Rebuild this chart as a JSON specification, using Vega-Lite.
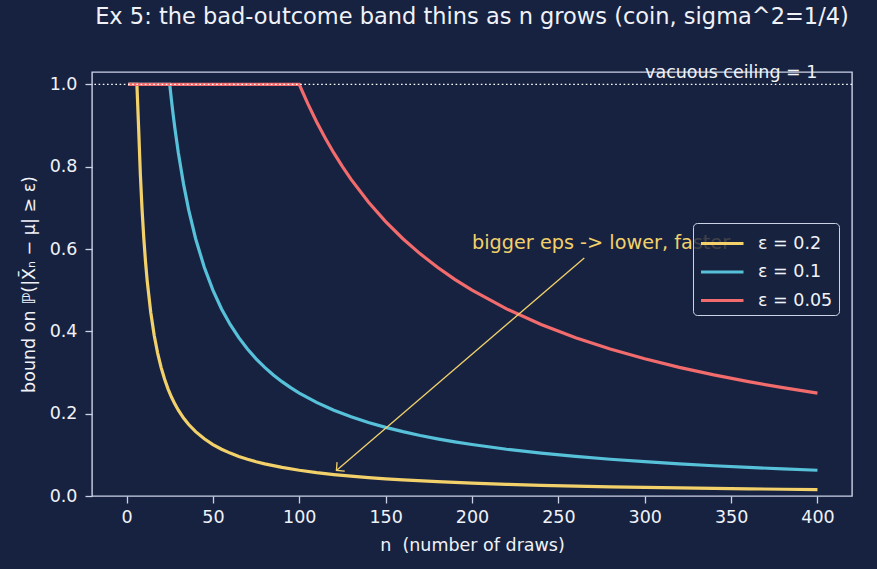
{
  "$schema": "https://vega.github.io/schema/vega-lite/v6.json",
  "width": 760,
  "height": 424,
  "autosize": {"type": "none"},
  "padding": {"left": 92, "top": 72, "right": 25, "bottom": 73},
  "background": "#172240",
  "config": {
    "font": "DejaVu Sans",
    "view": {"stroke": "#ccd3e6", "strokeWidth": 1.4, "fill": "#172240"},
    "axis": {
      "domain": false,
      "grid": false,
      "tickColor": "#ccd3e6",
      "tickSize": 7,
      "tickWidth": 1.3,
      "labelColor": "#f0f2f8",
      "labelFontSize": 17.5,
      "labelFont": "DejaVu Sans",
      "titleColor": "#f0f2f8",
      "titleFontSize": 17.5,
      "titleFontWeight": "normal",
      "titleFont": "DejaVu Sans"
    }
  },
  "title": {
    "text": "Ex 5: the bad-outcome band thins as n grows (coin, sigma^2=1/4)",
    "color": "#f0f2f8",
    "fontSize": 22.5,
    "fontWeight": "normal",
    "font": "DejaVu Sans",
    "anchor": "middle",
    "offset": 36
  },
  "datasets": {
    "curves": [
      {"n":1,"eps":"e02","p":1},{"n":2,"eps":"e02","p":1},{"n":3,"eps":"e02","p":1},{"n":4,"eps":"e02","p":1},{"n":5,"eps":"e02","p":1},{"n":6,"eps":"e02","p":1},
      {"n":7,"eps":"e02","p":0.8929},{"n":8,"eps":"e02","p":0.7813},{"n":9,"eps":"e02","p":0.6944},{"n":10,"eps":"e02","p":0.625},{"n":11,"eps":"e02","p":0.5682},{"n":12,"eps":"e02","p":0.5208},
      {"n":14,"eps":"e02","p":0.4464},{"n":16,"eps":"e02","p":0.3906},{"n":18,"eps":"e02","p":0.3472},{"n":20,"eps":"e02","p":0.3125},{"n":22,"eps":"e02","p":0.2841},{"n":24,"eps":"e02","p":0.2604},
      {"n":26,"eps":"e02","p":0.2404},{"n":28,"eps":"e02","p":0.2232},{"n":30,"eps":"e02","p":0.2083},{"n":33,"eps":"e02","p":0.1894},{"n":36,"eps":"e02","p":0.1736},{"n":40,"eps":"e02","p":0.1563},
      {"n":45,"eps":"e02","p":0.1389},{"n":50,"eps":"e02","p":0.125},{"n":55,"eps":"e02","p":0.1136},{"n":60,"eps":"e02","p":0.1042},{"n":65,"eps":"e02","p":0.0962},{"n":70,"eps":"e02","p":0.0893},
      {"n":75,"eps":"e02","p":0.0833},{"n":80,"eps":"e02","p":0.0781},{"n":90,"eps":"e02","p":0.0694},{"n":100,"eps":"e02","p":0.0625},{"n":110,"eps":"e02","p":0.0568},{"n":120,"eps":"e02","p":0.0521},
      {"n":130,"eps":"e02","p":0.0481},{"n":140,"eps":"e02","p":0.0446},{"n":150,"eps":"e02","p":0.0417},{"n":160,"eps":"e02","p":0.0391},{"n":180,"eps":"e02","p":0.0347},{"n":200,"eps":"e02","p":0.0313},
      {"n":220,"eps":"e02","p":0.0284},{"n":240,"eps":"e02","p":0.026},{"n":260,"eps":"e02","p":0.024},{"n":280,"eps":"e02","p":0.0223},{"n":300,"eps":"e02","p":0.0208},{"n":320,"eps":"e02","p":0.0195},
      {"n":340,"eps":"e02","p":0.0184},{"n":360,"eps":"e02","p":0.0174},{"n":380,"eps":"e02","p":0.0164},{"n":400,"eps":"e02","p":0.0156},

      {"n":1,"eps":"e01","p":1},{"n":10,"eps":"e01","p":1},{"n":20,"eps":"e01","p":1},{"n":25,"eps":"e01","p":1},
      {"n":26,"eps":"e01","p":0.9615},{"n":27,"eps":"e01","p":0.9259},{"n":28,"eps":"e01","p":0.8929},{"n":30,"eps":"e01","p":0.8333},{"n":33,"eps":"e01","p":0.7576},{"n":36,"eps":"e01","p":0.6944},
      {"n":40,"eps":"e01","p":0.625},{"n":45,"eps":"e01","p":0.5556},{"n":50,"eps":"e01","p":0.5},{"n":55,"eps":"e01","p":0.4545},{"n":60,"eps":"e01","p":0.4167},{"n":65,"eps":"e01","p":0.3846},
      {"n":70,"eps":"e01","p":0.3571},{"n":75,"eps":"e01","p":0.3333},{"n":80,"eps":"e01","p":0.3125},{"n":85,"eps":"e01","p":0.2941},{"n":90,"eps":"e01","p":0.2778},{"n":95,"eps":"e01","p":0.2632},
      {"n":100,"eps":"e01","p":0.25},{"n":110,"eps":"e01","p":0.2273},{"n":120,"eps":"e01","p":0.2083},{"n":130,"eps":"e01","p":0.1923},{"n":140,"eps":"e01","p":0.1786},{"n":150,"eps":"e01","p":0.1667},
      {"n":160,"eps":"e01","p":0.1563},{"n":170,"eps":"e01","p":0.1471},{"n":180,"eps":"e01","p":0.1389},{"n":190,"eps":"e01","p":0.1316},{"n":200,"eps":"e01","p":0.125},{"n":220,"eps":"e01","p":0.1136},
      {"n":240,"eps":"e01","p":0.1042},{"n":260,"eps":"e01","p":0.0962},{"n":280,"eps":"e01","p":0.0893},{"n":300,"eps":"e01","p":0.0833},{"n":320,"eps":"e01","p":0.0781},{"n":340,"eps":"e01","p":0.0735},
      {"n":360,"eps":"e01","p":0.0694},{"n":380,"eps":"e01","p":0.0658},{"n":400,"eps":"e01","p":0.0625},

      {"n":1,"eps":"e005","p":1},{"n":50,"eps":"e005","p":1},{"n":100,"eps":"e005","p":1},
      {"n":101,"eps":"e005","p":0.9901},{"n":105,"eps":"e005","p":0.9524},{"n":110,"eps":"e005","p":0.9091},{"n":115,"eps":"e005","p":0.8696},{"n":120,"eps":"e005","p":0.8333},{"n":125,"eps":"e005","p":0.8},
      {"n":130,"eps":"e005","p":0.7692},{"n":140,"eps":"e005","p":0.7143},{"n":150,"eps":"e005","p":0.6667},{"n":160,"eps":"e005","p":0.625},{"n":170,"eps":"e005","p":0.5882},{"n":180,"eps":"e005","p":0.5556},
      {"n":190,"eps":"e005","p":0.5263},{"n":200,"eps":"e005","p":0.5},{"n":220,"eps":"e005","p":0.4545},{"n":240,"eps":"e005","p":0.4167},{"n":260,"eps":"e005","p":0.3846},{"n":280,"eps":"e005","p":0.3571},
      {"n":300,"eps":"e005","p":0.3333},{"n":320,"eps":"e005","p":0.3125},{"n":340,"eps":"e005","p":0.2941},{"n":360,"eps":"e005","p":0.2778},{"n":380,"eps":"e005","p":0.2632},{"n":400,"eps":"e005","p":0.25}
    ],
    "ceiling": [{"p": 1, "n": 400, "label": "vacuous ceiling = 1"}],
    "note": [{"n": 200, "p": 0.6, "label": "bigger eps -> lower, faster"}],
    "arrow": [{"n": 265, "p": 0.578, "n2": 121.5, "p2": 0.062}]
  },
  "layer": [
    {
      "data": {"name": "curves"},
      "mark": {"type": "line", "strokeWidth": 3.2, "interpolate": "linear"},
      "encoding": {
        "x": {
          "field": "n", "type": "quantitative",
          "scale": {"domain": [-20, 420], "nice": false, "zero": false},
          "axis": {"values": [0,50,100,150,200,250,300,350,400], "title": "n\u00a0\u00a0(number of draws)", "labelPadding": 5, "titlePadding": 11}
        },
        "y": {
          "field": "p", "type": "quantitative",
          "scale": {"domain": [0, 1.03], "nice": false},
          "axis": {"values": [0,0.2,0.4,0.6,0.8,1.0], "format": ".1f", "title": "bound on ℙ(|X̄ₙ − μ| ≥ ε)", "labelPadding": 8, "titlePadding": 11}
        },
        "color": {
          "field": "eps", "type": "nominal",
          "scale": {"domain": ["e02", "e01", "e005"], "range": ["#f2d16b", "#57c1da", "#f26b6d"]},
          "legend": {
            "title": null,
            "orient": "none",
            "legendX": 601,
            "legendY": 151,
            "labelExpr": "datum.value == 'e02' ? 'ε = 0.2' : datum.value == 'e01' ? 'ε = 0.1' : 'ε = 0.05'",
            "symbolType": "M -1 0 L 2.4 0",
            "symbolStrokeWidth": 3.2,
            "symbolSize": 625,
            "symbolFillColor": "transparent",
            "labelFontSize": 17.5,
            "labelColor": "#f0f2f8",
            "labelFont": "DejaVu Sans",
            "labelOffset": 30,
            "rowPadding": 5.5,
            "padding": 6,
            "fillColor": "rgba(23,34,64,0.82)",
            "strokeColor": "#ccd3e6",
            "cornerRadius": 4
          }
        },
        "order": {"field": "n", "type": "quantitative"}
      }
    },
    {
      "data": {"name": "ceiling"},
      "mark": {"type": "rule", "color": "#ffffff", "strokeWidth": 1.3, "strokeDash": [1.6, 2.6]},
      "encoding": {"y": {"field": "p", "type": "quantitative"}}
    },
    {
      "data": {"name": "ceiling"},
      "mark": {"type": "text", "align": "right", "baseline": "bottom", "dy": -2, "fontSize": 17.5, "color": "#f0f2f8"},
      "encoding": {
        "x": {"field": "n", "type": "quantitative"},
        "y": {"field": "p", "type": "quantitative"},
        "text": {"field": "label"}
      }
    },
    {
      "data": {"name": "note"},
      "mark": {"type": "text", "align": "left", "baseline": "alphabetic", "fontSize": 19.25, "color": "#f2d16b"},
      "encoding": {
        "x": {"field": "n", "type": "quantitative"},
        "y": {"field": "p", "type": "quantitative"},
        "text": {"field": "label"}
      }
    },
    {
      "data": {"name": "arrow"},
      "mark": {"type": "rule", "color": "#f2d16b", "strokeWidth": 1.3},
      "encoding": {
        "x": {"field": "n", "type": "quantitative"},
        "y": {"field": "p", "type": "quantitative"},
        "x2": {"field": "n2"},
        "y2": {"field": "p2"}
      }
    },
    {
      "data": {"name": "arrow"},
      "mark": {"type": "point", "shape": "M -1 1 L 0 0 L 1 1", "filled": false, "stroke": "#f2d16b", "strokeWidth": 1.3, "size": 140, "angle": 229.4, "opacity": 1},
      "encoding": {
        "x": {"field": "n2", "type": "quantitative"},
        "y": {"field": "p2", "type": "quantitative"}
      }
    }
  ]
}
